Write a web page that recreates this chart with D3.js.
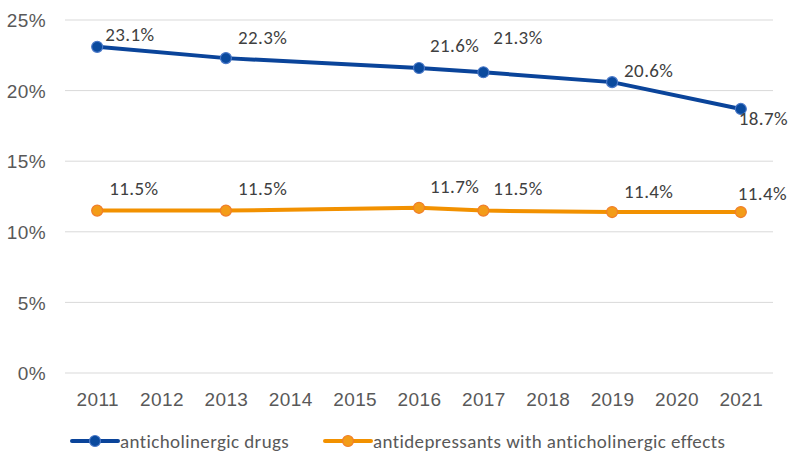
<!DOCTYPE html>
<html>
<head>
<meta charset="utf-8">
<script src="https://cdn.jsdelivr.net/npm/d3@7"></script>
<style>
  html, body { margin: 0; padding: 0; background: #fff; }
  svg { display: block; font-family: Carlito, Calibri, Lato, "Open Sans", sans-serif; }
  svg text { letter-spacing: 0.4px; }
</style>
</head>
<body>
<svg id="chart" width="789" height="452"></svg>
<script>
// Axis categories and tick values
const years = [2011, 2012, 2013, 2014, 2015, 2016, 2017, 2018, 2019, 2020, 2021];
const yTicks = [0, 5, 10, 15, 20, 25];

// Survey years that have measurements
const dataYears = [2011, 2013, 2016, 2017, 2019, 2021];

// Series values (percent)
const anticholinergic = [23.1, 22.3, 21.6, 21.3, 20.6, 18.7];
const antidepressants = [11.5, 11.5, 11.7, 11.5, 11.4, 11.4];

const seriesNames = ["anticholinergic drugs", "antidepressants with anticholinergic effects"];

// Label placement (dx to left edge, dy to baseline) for each point
const labelOffsetsA = [[8, -6], [12, -14], [11, -16], [10, -28], [12, -5], [-2, 16]];
const labelOffsetsB = [[12, -16], [12, -16], [11, -15], [10, -16], [12, -14], [-3, -12]];

const svg = d3.select("#chart");
const plotLeft = 65, plotRight = 773, plotTop = 20, plotBottom = 373;
const fontSize = "19px";

const x = d3.scalePoint().domain(years).range([plotLeft, plotRight]).padding(0.5);
const y = d3.scaleLinear().domain([0, 25]).range([plotBottom, plotTop]);

const textColor = "#595959";

// Horizontal gridlines
svg.append("g").selectAll("line").data(yTicks).join("line")
  .attr("x1", plotLeft).attr("x2", plotRight)
  .attr("y1", d => y(d)).attr("y2", d => y(d))
  .attr("stroke", "#d9d9d9").attr("stroke-width", 1);

// Y-axis labels
const yAxis = d3.axisLeft(y).tickValues(yTicks).tickFormat(d => d + "%").tickSize(0).tickPadding(0);
const gy = svg.append("g").attr("transform", `translate(46,0)`).call(yAxis);
gy.select(".domain").remove();
gy.selectAll("text").attr("fill", textColor).style("font-size", fontSize).attr("dy", "0.35em");

// X-axis labels
const xAxis = d3.axisBottom(x).tickSize(0).tickPadding(0);
const gx = svg.append("g").attr("transform", `translate(0,399)`).call(xAxis);
gx.select(".domain").remove();
gx.selectAll("text").attr("y", 0).attr("fill", textColor).style("font-size", fontSize).attr("dy", "0.35em");

const series = [
  { name: seriesNames[0], values: anticholinergic, offsets: labelOffsetsA,
    line: "#0a449a", fill: "#0a4a9e", stroke: "#4a78c8" },
  { name: seriesNames[1], values: antidepressants, offsets: labelOffsetsB,
    line: "#f29100", fill: "#f39c18", stroke: "#f07d2a" }
];

const line = d3.line().x(d => x(d.year)).y(d => y(d.v));

series.forEach(s => {
  const pts = dataYears.map((yr, i) => ({ year: yr, v: s.values[i], off: s.offsets[i] }));
  const g = svg.append("g");
  g.append("path").datum(pts)
    .attr("d", line).attr("fill", "none")
    .attr("stroke", s.line).attr("stroke-width", 4)
    .attr("stroke-linejoin", "round").attr("stroke-linecap", "round");
  g.selectAll("circle").data(pts).join("circle")
    .attr("cx", d => x(d.year)).attr("cy", d => y(d.v)).attr("r", 5.5)
    .attr("fill", s.fill).attr("stroke", s.stroke).attr("stroke-width", 1.2);
  g.selectAll("text").data(pts).join("text")
    .attr("x", d => x(d.year) + d.off[0]).attr("y", d => y(d.v) + d.off[1])
    .attr("fill", "#404040").style("font-size", fontSize)
    .text(d => d.v.toFixed(1) + "%");
});

// Legend
const legendX = [72, 325];
const legendY = 441;
series.forEach((s, i) => {
  const g = svg.append("g").attr("transform", `translate(${legendX[i]},${legendY})`);
  g.append("line").attr("x1", 0).attr("x2", 46).attr("y1", 0).attr("y2", 0)
    .attr("stroke", s.line).attr("stroke-width", 4).attr("stroke-linecap", "round");
  g.append("circle").attr("cx", 23).attr("cy", 0).attr("r", 5.5)
    .attr("fill", s.fill).attr("stroke", s.stroke).attr("stroke-width", 1.2);
  g.append("text").attr("x", 48).attr("y", 0).attr("dy", "0.35em")
    .attr("fill", textColor).style("font-size", fontSize).text(s.name);
});
</script>
</body>
</html>
